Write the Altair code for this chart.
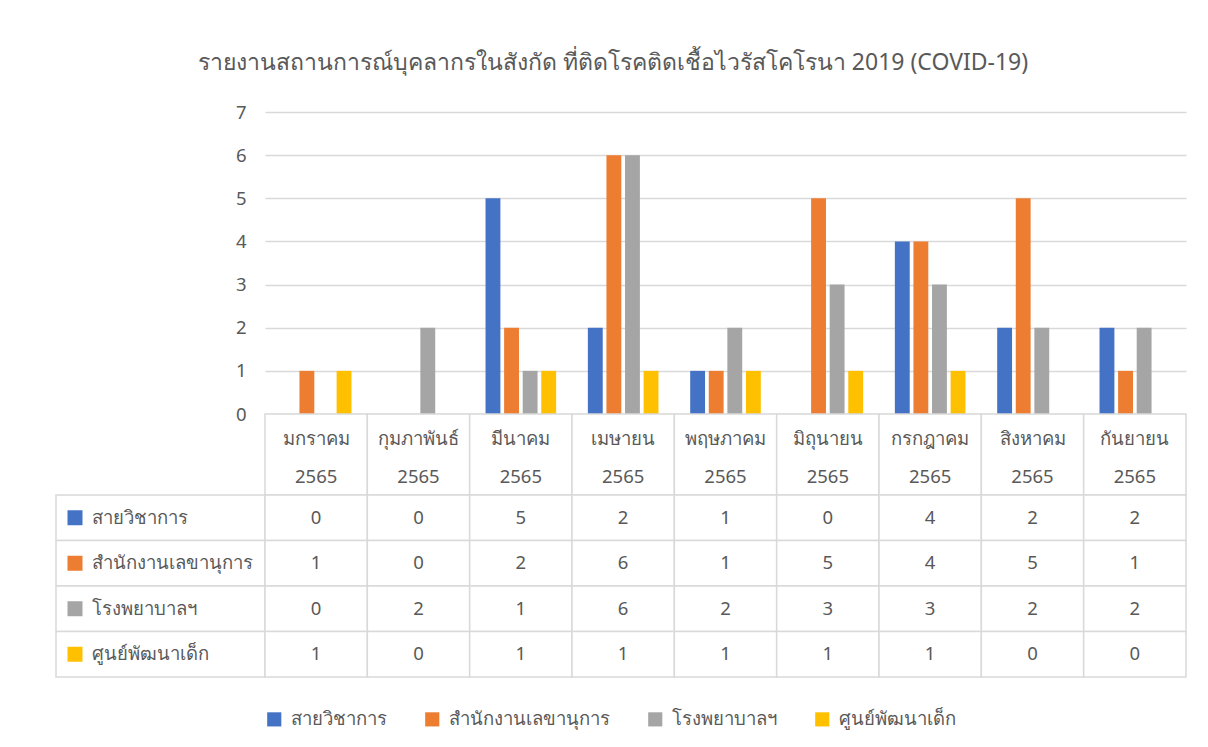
import altair as alt
import pandas as pd

months = ["มกราคม", "กุมภาพันธ์", "มีนาคม", "เมษายน", "พฤษภาคม",
          "มิถุนายน", "กรกฎาคม", "สิงหาคม", "กันยายน"]
year = "2565"
series = ["สายวิชาการ", "สำนักงานเลขานุการ", "โรงพยาบาลฯ", "ศูนย์พัฒนาเด็ก"]
colors = ["#4472C4", "#ED7D31", "#A5A5A5", "#FFC000"]

academic = [0, 0, 5, 2, 1, 0, 4, 2, 2]
secretariat = [1, 0, 2, 6, 1, 5, 4, 5, 1]
hospital = [0, 2, 1, 6, 2, 3, 3, 2, 2]
childcenter = [1, 0, 1, 1, 1, 1, 1, 0, 0]

title = "รายงานสถานการณ์บุคลากรในสังกัด  ที่ติดโรคติดเชื้อไวรัสโคโรนา 2019 (COVID-19)"

FONT = "Noto Sans"
TXT = "#595959"
GRID = "#D9D9D9"
FS = 18.5

rows = []
for s, vals in zip(series, [academic, secretariat, hospital, childcenter]):
    for m, v in zip(months, vals):
        rows.append({"month": m + " " + year, "series": s, "value": v})
df = pd.DataFrame(rows)
month_keys = [m + " " + year for m in months]
hdr = pd.DataFrame({"month": month_keys,
                    "label": [m + "\n" + year for m in months]})

W = 921
color_scale = alt.Scale(domain=series, range=colors)

bars = alt.Chart(df).mark_bar().encode(
    x=alt.X("month:N", sort=month_keys, axis=None,
            scale=alt.Scale(paddingInner=0.31, paddingOuter=0.155)),
    xOffset=alt.XOffset("series:N", sort=series,
                        scale=alt.Scale(paddingInner=0.2)),
    y=alt.Y("value:Q", title=None,
            scale=alt.Scale(domain=[0, 7]),
            axis=alt.Axis(values=list(range(8)), grid=True, gridColor=GRID,
                          gridWidth=1.5, domain=False, ticks=False,
                          labelPadding=19, labelFontSize=FS, labelColor=TXT,
                          labelFont=FONT)),
    color=alt.Color("series:N", sort=series, scale=color_scale,
                    legend=alt.Legend(title=None, orient="bottom",
                                      direction="horizontal",
                                      symbolType="square", symbolSize=200,
                                      symbolStrokeWidth=0, labelOffset=7,
                                      labelFontSize=FS, labelColor=TXT,
                                      labelFont=FONT, columnPadding=36,
                                      offset=32, labelLimit=300)),
).properties(width=W, height=302)

header_cells = alt.Chart(hdr).mark_rect(fill="white", stroke=GRID,
                                        strokeWidth=1.5).encode(
    x=alt.X("month:N", sort=month_keys, axis=None,
            scale=alt.Scale(paddingInner=0, paddingOuter=0)),
)
header_text = alt.Chart(hdr).mark_text(lineBreak="\n", lineHeight=38,
                                       fontSize=FS, color=TXT, font=FONT,
                                       dy=-16).encode(
    x=alt.X("month:N", sort=month_keys, axis=None),
    text="label:N",
)
header = alt.layer(header_cells, header_text).properties(width=W, height=81)

body_cells = alt.Chart(df).mark_rect(fill="white", stroke=GRID,
                                     strokeWidth=1.5).encode(
    x=alt.X("month:N", sort=month_keys, axis=None,
            scale=alt.Scale(paddingInner=0, paddingOuter=0)),
    y=alt.Y("series:N", sort=series, title=None,
            scale=alt.Scale(paddingInner=0, paddingOuter=0),
            axis=alt.Axis(domain=False, ticks=False, tickSize=0,
                          labelAlign="left", labelPadding=174,
                          labelFontSize=FS, labelColor=TXT, labelFont=FONT,
                          labelLimit=200)),
)
body_head = alt.Chart(pd.DataFrame({"series": series})).mark_rect(
    fill="white", stroke=GRID, strokeWidth=1.5).encode(
    x=alt.value(-209), x2=alt.value(0),
    y=alt.Y("series:N", sort=series),
)
body_sym = alt.Chart(pd.DataFrame({"series": series})).mark_square(
    size=225, opacity=1).encode(
    x=alt.value(-190),
    y=alt.Y("series:N", sort=series),
    color=alt.Color("series:N", sort=series, scale=color_scale, legend=None),
)
body_text = alt.Chart(df).mark_text(fontSize=FS, color=TXT, font=FONT).encode(
    x=alt.X("month:N", sort=month_keys),
    y=alt.Y("series:N", sort=series),
    text="value:Q",
)
body = alt.layer(body_head, body_cells, body_sym, body_text).properties(
    width=W, height=182)

chart = alt.vconcat(bars, header, body, spacing=0, bounds="flush").properties(
    title=alt.TitleParams(title, fontSize=23, font=FONT, color=TXT,
                          fontWeight="normal", anchor="middle", offset=28,
                          dx=-8),
    padding={"top": 44, "left": 47, "right": 10, "bottom": 10},
).configure_view(stroke=None)

chart.save("out.html", embed_options={"renderer": "svg", "actions": False})
